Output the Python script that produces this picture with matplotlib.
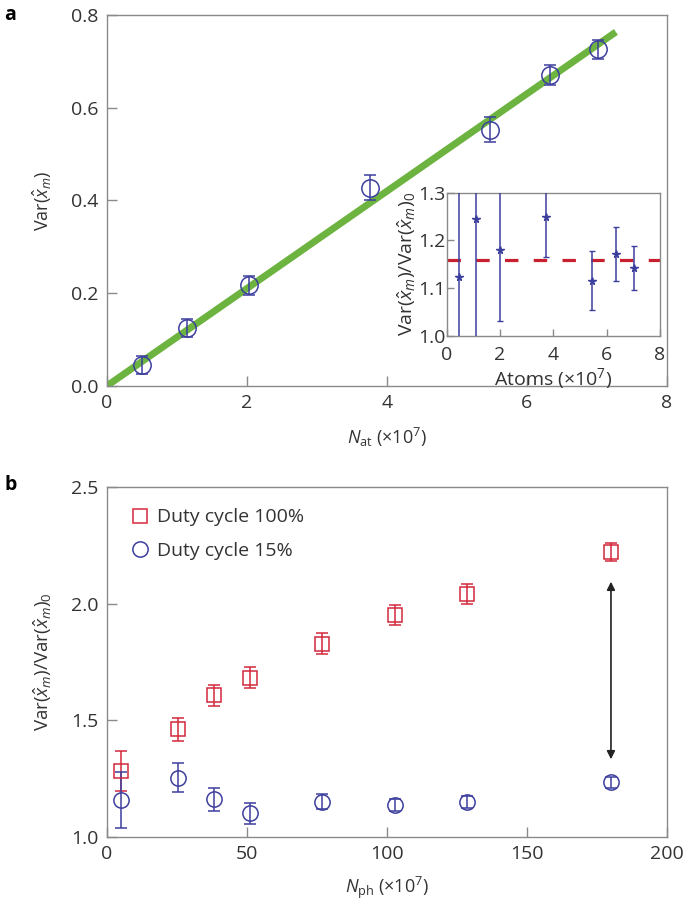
import numpy as np
import matplotlib.pyplot as plt
from matplotlib.lines import Line2D

plt.rcParams['font.family'] = ['Open Sans', 'DejaVu Sans']
plt.rcParams['mathtext.fontset'] = 'custom'
plt.rcParams['mathtext.rm'] = 'Open Sans'
plt.rcParams['mathtext.it'] = 'Open Sans:italic'
plt.rcParams['mathtext.bf'] = 'Open Sans:bold'

# panel a: variance vs atom number
n_at = [0.5, 1.15, 2.03, 3.76, 5.47, 6.33, 7.01]
var_xm = [0.045, 0.125, 0.217, 0.428, 0.553, 0.671, 0.726]
var_err = [0.02, 0.02, 0.02, 0.026, 0.026, 0.022, 0.02]
fit_x = [0.0, 7.27]
fit_slope = 0.105

# inset: normalised variance vs atoms
atoms = [0.46, 1.1, 2.02, 3.72, 5.45, 6.34, 7.02]
ratio = [1.123, 1.244, 1.181, 1.25, 1.116, 1.172, 1.143]
ratio_err = [0.3, 0.3, 0.15, 0.085, 0.062, 0.057, 0.046]
ratio_mean = 1.158

# panel b: normalised variance vs photon number
n_ph = [5, 25.5, 38.3, 51.3, 77, 102.9, 128.7, 180]
duty100 = [1.283, 1.462, 1.607, 1.683, 1.829, 1.951, 2.041, 2.221]
duty100_err = [0.085, 0.05, 0.045, 0.045, 0.045, 0.042, 0.044, 0.04]
duty15 = [1.159, 1.254, 1.162, 1.101, 1.151, 1.137, 1.151, 1.234]
duty15_err = [0.12, 0.062, 0.05, 0.044, 0.032, 0.025, 0.025, 0.025]
arrow_y = [2.094, 1.333]

blue = '#3d3f9e'
red = '#d2283c'
green = '#6cb33f'
spine = '#8a8a8a'
txt = '#333333'


def style(ax, size=14, pad=6):
    for s in ax.spines.values():
        s.set_color(spine)
        s.set_linewidth(1.0)
    ax.tick_params(direction='in', length=7, width=1, color=spine,
                   labelsize=size, labelcolor=txt, pad=pad,
                   top=False, right=False)


fig = plt.figure(figsize=(6.85, 9.08), dpi=100)

# ---- panel a
ax1 = fig.add_axes([0.1558, 0.5749, 0.8179, 0.4086])
style(ax1)
ax1.plot(fit_x, [fit_slope * v for v in fit_x], color=green, lw=5,
         solid_capstyle='butt', zorder=2)
ax1.errorbar(n_at, var_xm, yerr=var_err, fmt='o', ms=12.5, mfc='none',
             mec=blue, mew=1.1, ecolor=blue, elinewidth=1.1, capsize=4.5,
             capthick=1.1, zorder=3)
ax1.set_xlim(0, 8)
ax1.set_ylim(0, 0.8)
ax1.set_xticks([0, 2, 4, 6, 8])
ax1.set_yticks([0, 0.2, 0.4, 0.6, 0.8])
ax1.set_yticklabels(['0.0', '0.2', '0.4', '0.6', '0.8'])
ax1.set_xlabel(r'$N_{\rm at}$ (×10$^7$)', fontsize=13, color=txt, labelpad=10)
ax1.set_ylabel(r'Var($\hat{x}_m$)', fontsize=13, color=txt, labelpad=12)

# ---- inset
axi = fig.add_axes([0.652, 0.630, 0.3115, 0.1578])
style(axi, size=14, pad=1)
axi.tick_params(axis='x', pad=7, length=5)
axi.tick_params(axis='y', length=5)
axi.axhline(ratio_mean, color='#c8202e', lw=2.3, ls=(0, (4.2, 4.8)), zorder=2)
axi.errorbar(atoms, ratio, yerr=ratio_err, fmt='*', ms=5.5, color=blue,
             ecolor=blue, elinewidth=1.1, capsize=2.5, capthick=1.0, zorder=3)
axi.set_xlim(0, 8)
axi.set_ylim(1.0, 1.3)
axi.set_xticks([0, 2, 4, 6, 8])
axi.set_yticks([1.0, 1.1, 1.2, 1.3])
axi.set_yticklabels(['1.0', '1.1', '1.2', '1.3'])
axi.set_xlabel('Atoms (×10$^7$)', fontsize=14, color=txt, labelpad=2)
axi.set_ylabel(r'Var($\hat{x}_m$)/Var($\hat{x}_m$)$_0$', fontsize=14,
               color=txt, labelpad=0)

# ---- panel b
ax2 = fig.add_axes([0.1558, 0.0782, 0.8179, 0.3855])
style(ax2)
ax2.errorbar(n_ph, duty100, yerr=duty100_err, fmt='s', ms=9.5, mfc='none',
             mec=red, mew=1.1, ecolor=red, elinewidth=1.1, capsize=4.5,
             capthick=1.1, zorder=3)
ax2.errorbar(n_ph, duty15, yerr=duty15_err, fmt='o', ms=11, mfc='none',
             mec=blue, mew=1.1, ecolor=blue, elinewidth=1.1, capsize=4.5,
             capthick=1.1, zorder=3)
ax2.annotate('', xy=(n_ph[-1], arrow_y[0]), xytext=(n_ph[-1], arrow_y[1]),
             arrowprops=dict(arrowstyle='<|-|>', color='#222222', lw=1.2,
                             mutation_scale=12, shrinkA=0, shrinkB=0))
ax2.set_xlim(0, 200)
ax2.set_ylim(1.0, 2.5)
ax2.set_xticks([0, 50, 100, 150, 200])
ax2.set_yticks([1.0, 1.5, 2.0, 2.5])
ax2.set_yticklabels(['1.0', '1.5', '2.0', '2.5'])
ax2.set_xlabel(r'$N_{\rm ph}$ (×10$^7$)', fontsize=13, color=txt, labelpad=8)
ax2.set_ylabel(r'Var($\hat{x}_m$)/Var($\hat{x}_m$)$_0$', fontsize=13.5,
               color=txt, labelpad=12)

handles = [Line2D([], [], ls='none', marker='s', ms=9.5, mfc='none', mec=red, mew=1.1),
           Line2D([], [], ls='none', marker='o', ms=11, mfc='none', mec=blue, mew=1.1)]
ax2.legend(handles, ['Duty cycle 100%', 'Duty cycle 15%'], loc='upper left',
           frameon=False, fontsize=14, handletextpad=0.3, labelspacing=0.8,
           borderaxespad=0.7, labelcolor=txt, handlelength=1.2)

fig.text(0.006, 0.983, 'a', fontsize=14, fontweight='bold', va='center')
fig.text(0.006, 0.466, 'b', fontsize=14, fontweight='bold', va='center')

fig.savefig('out.png', dpi=100)
